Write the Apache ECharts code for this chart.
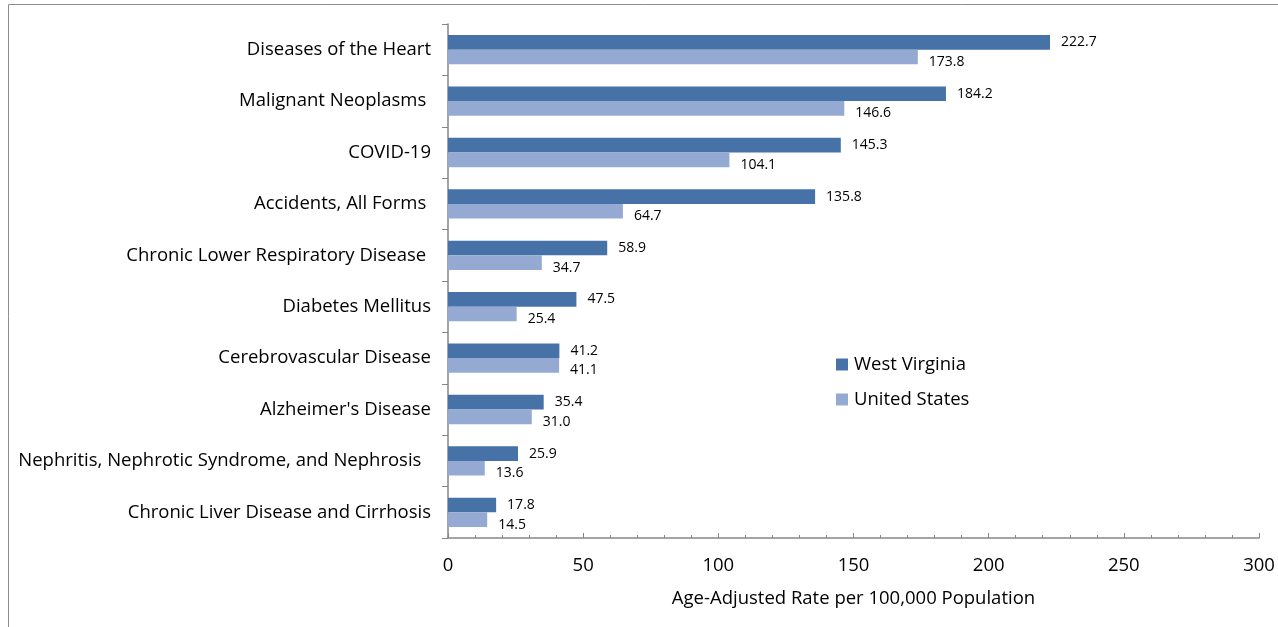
<!DOCTYPE html>
<html>
<head>
<meta charset="utf-8">
<script src="https://cdn.jsdelivr.net/npm/echarts@6/dist/echarts.min.js"></script>
<style>
  html, body { margin: 0; padding: 0; background: #fff; }
  #main { width: 1278px; height: 627px; }
</style>
</head>
<body>
<div id="main"></div>
<script>
// leading causes of death, top to bottom
const causes = [
  'Diseases of the Heart',
  'Malignant Neoplasms ',
  'COVID-19',
  'Accidents, All Forms ',
  'Chronic Lower Respiratory Disease ',
  'Diabetes Mellitus',
  'Cerebrovascular Disease',
  "Alzheimer's Disease",
  'Nephritis, Nephrotic Syndrome, and Nephrosis  ',
  'Chronic Liver Disease and Cirrhosis'
];
const westVirginia = [222.7, 184.2, 145.3, 135.8, 58.9, 47.5, 41.2, 35.4, 25.9, 17.8];
const unitedStates = [173.8, 146.6, 104.1, 64.7, 34.7, 25.4, 41.1, 31.0, 13.6, 14.5];
const xTicks = [0, 50, 100, 150, 200, 250, 300];

const font = '"Open Sans", Lato, sans-serif';
const chart = echarts.init(document.getElementById('main'));

const labelStyle = (dy) => ({
  show: true,
  position: 'right',
  distance: 11,
  offset: [0, dy],
  color: '#000',
  fontFamily: font,
  fontSize: 14,
  formatter: (p) => p.value.toFixed(1)
});

chart.setOption({
  animation: false,
  textStyle: { fontFamily: font },
  graphic: [{
    type: 'rect',
    shape: { x: 8.5, y: 4.5, width: 1300, height: 700 },
    style: { fill: 'none', stroke: '#8c8c8c', lineWidth: 1 },
    silent: true
  }],
  grid: { left: 448, right: 19, top: 24, bottom: 89, containLabel: false },
  legend: {
    orient: 'vertical',
    left: 831,
    top: 350,
    itemWidth: 12,
    itemHeight: 12,
    itemGap: 16,
    icon: 'rect',
    textStyle: { fontFamily: font, fontSize: 18.5, color: '#000', padding: [0, 0, 0, 1] },
    data: ['West Virginia', 'United States']
  },
  xAxis: {
    type: 'value',
    min: xTicks[0],
    max: xTicks[xTicks.length - 1],
    interval: 50,
    name: 'Age-Adjusted Rate per 100,000 Population',
    nameLocation: 'middle',
    nameGap: 51,
    nameTextStyle: { fontFamily: font, fontSize: 18.5, color: '#000' },
    axisLine: { show: true, lineStyle: { color: '#868686', width: 1.5 } },
    axisTick: { show: true, inside: true, length: 5, lineStyle: { color: '#868686' } },
    minorTick: { show: true, splitNumber: 5, length: 3, lineStyle: { color: '#868686' } },
    splitLine: { show: false },
    axisLabel: { fontFamily: font, fontSize: 18.5, color: '#000', margin: 18 }
  },
  yAxis: {
    type: 'category',
    inverse: true,
    data: causes,
    axisLine: { show: true, lineStyle: { color: '#868686', width: 1.5 } },
    axisTick: { show: true, length: 6, alignWithLabel: false, lineStyle: { color: '#868686' } },
    axisLabel: { fontFamily: font, fontSize: 18.5, color: '#000', margin: 17 }
  },
  series: [
    {
      name: 'West Virginia',
      type: 'bar',
      data: westVirginia,
      barGap: '0%',
      barCategoryGap: '43%',
      itemStyle: { color: '#4672a8' },
      label: labelStyle(0)
    },
    {
      name: 'United States',
      type: 'bar',
      data: unitedStates,
      itemStyle: { color: '#95aad3' },
      label: labelStyle(5)
    }
  ]
});
</script>
</body>
</html>
